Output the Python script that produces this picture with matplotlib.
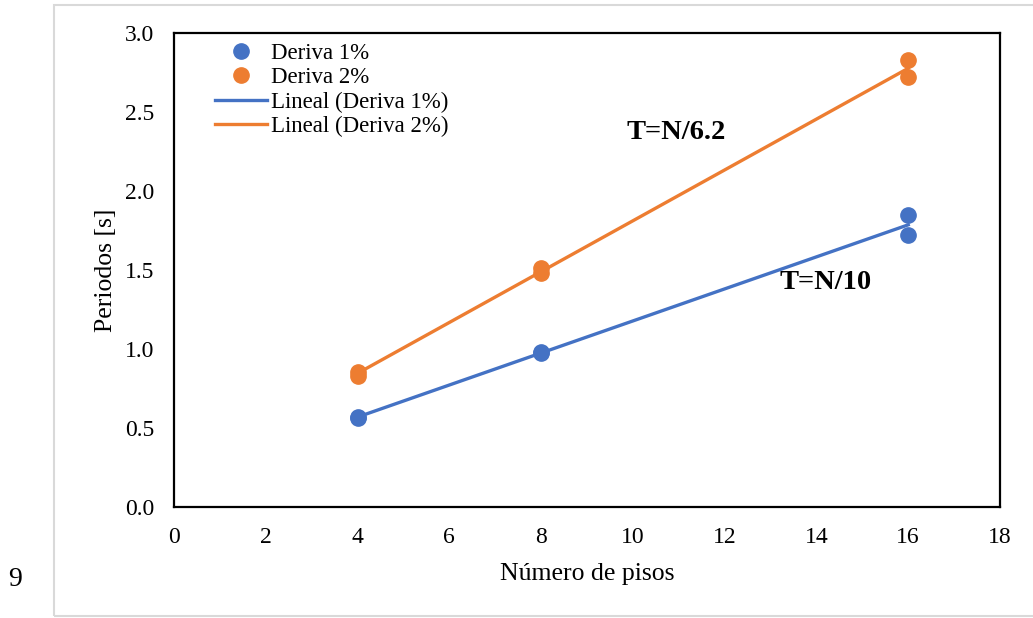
import numpy as np
import matplotlib
matplotlib.use("Agg")
import matplotlib.pyplot as plt
from matplotlib.patches import Rectangle

# Number of storeys and fundamental periods for each drift limit
pisos_1 = [4, 4, 8, 8, 16, 16]
periodo_1 = [0.57, 0.565, 0.98, 0.975, 1.85, 1.72]
pisos_2 = [4, 4, 8, 8, 16, 16]
periodo_2 = [0.855, 0.83, 1.51, 1.48, 2.83, 2.72]

x_ticks = [0, 2, 4, 6, 8, 10, 12, 14, 16, 18]
y_ticks = [0.0, 0.5, 1.0, 1.5, 2.0, 2.5, 3.0]

azul = "#4472C4"
naranja = "#ED7D31"
serif = "Liberation Serif"

fig = plt.figure(figsize=(10.33, 6.18), dpi=100)
ax = fig.add_axes([174 / 1033, 111 / 618, 826 / 1033, 474 / 618])

# Light outer chart frame
fig.patches.append(Rectangle((54 / 1033, 2 / 618), 1.2, 611 / 618, transform=fig.transFigure,
                             fill=False, edgecolor="#d9d9d9", linewidth=1.5, zorder=0))

ax.plot(pisos_1, periodo_1, "o", color=azul, markersize=11, label="Deriva 1%", zorder=3)
ax.plot(pisos_2, periodo_2, "o", color=naranja, markersize=11, label="Deriva 2%", zorder=3)

# Linear trendlines over the data range
for xs, ys, c, lab in [(pisos_1, periodo_1, azul, "Lineal (Deriva 1%)"),
                       (pisos_2, periodo_2, naranja, "Lineal (Deriva 2%)")]:
    m, b = np.polyfit(xs, ys, 1)
    xl = np.array([min(xs), max(xs)])
    ax.plot(xl, m * xl + b, "-", color=c, linewidth=2.4, label=lab, zorder=2)

ax.set_xlim(0, 18)
ax.set_ylim(0, 3.0)
ax.set_xticks(x_ticks)
ax.set_yticks(y_ticks)
ax.set_yticklabels([f"{v:.1f}" for v in y_ticks])
ax.tick_params(length=0, labelsize=17)
ax.tick_params(axis="y", pad=14)
ax.tick_params(axis="x", pad=14.5)
for lbl in ax.get_xticklabels() + ax.get_yticklabels():
    lbl.set_fontfamily(serif)
for s in ax.spines.values():
    s.set_linewidth(1.6)
    s.set_color("black")

ax.set_xlabel("Número de pisos", fontsize=18.5, fontfamily=serif, labelpad=11)
ax.set_ylabel("Periodos [s]", fontsize=18.5, fontfamily=serif, labelpad=6)

ax.text(10.94, 2.37, "T=N/6.2", fontsize=20.5, fontweight="bold", fontfamily=serif,
        ha="center", va="center")
ax.text(14.2, 1.42, "T=N/10", fontsize=20.5, fontweight="bold", fontfamily=serif,
        ha="center", va="center")

leg = ax.legend(loc="upper left", bbox_to_anchor=(0.0326, 1.008), frameon=False,
                prop={"family": serif, "size": 16.5}, handlelength=2.3,
                handletextpad=0.17, labelspacing=0.14, borderaxespad=0.2)

fig.text(15 / 1033, 1 - 579 / 618, "9", fontsize=20, fontfamily=serif,
         ha="center", va="center")

fig.savefig("out.png", dpi=100)
